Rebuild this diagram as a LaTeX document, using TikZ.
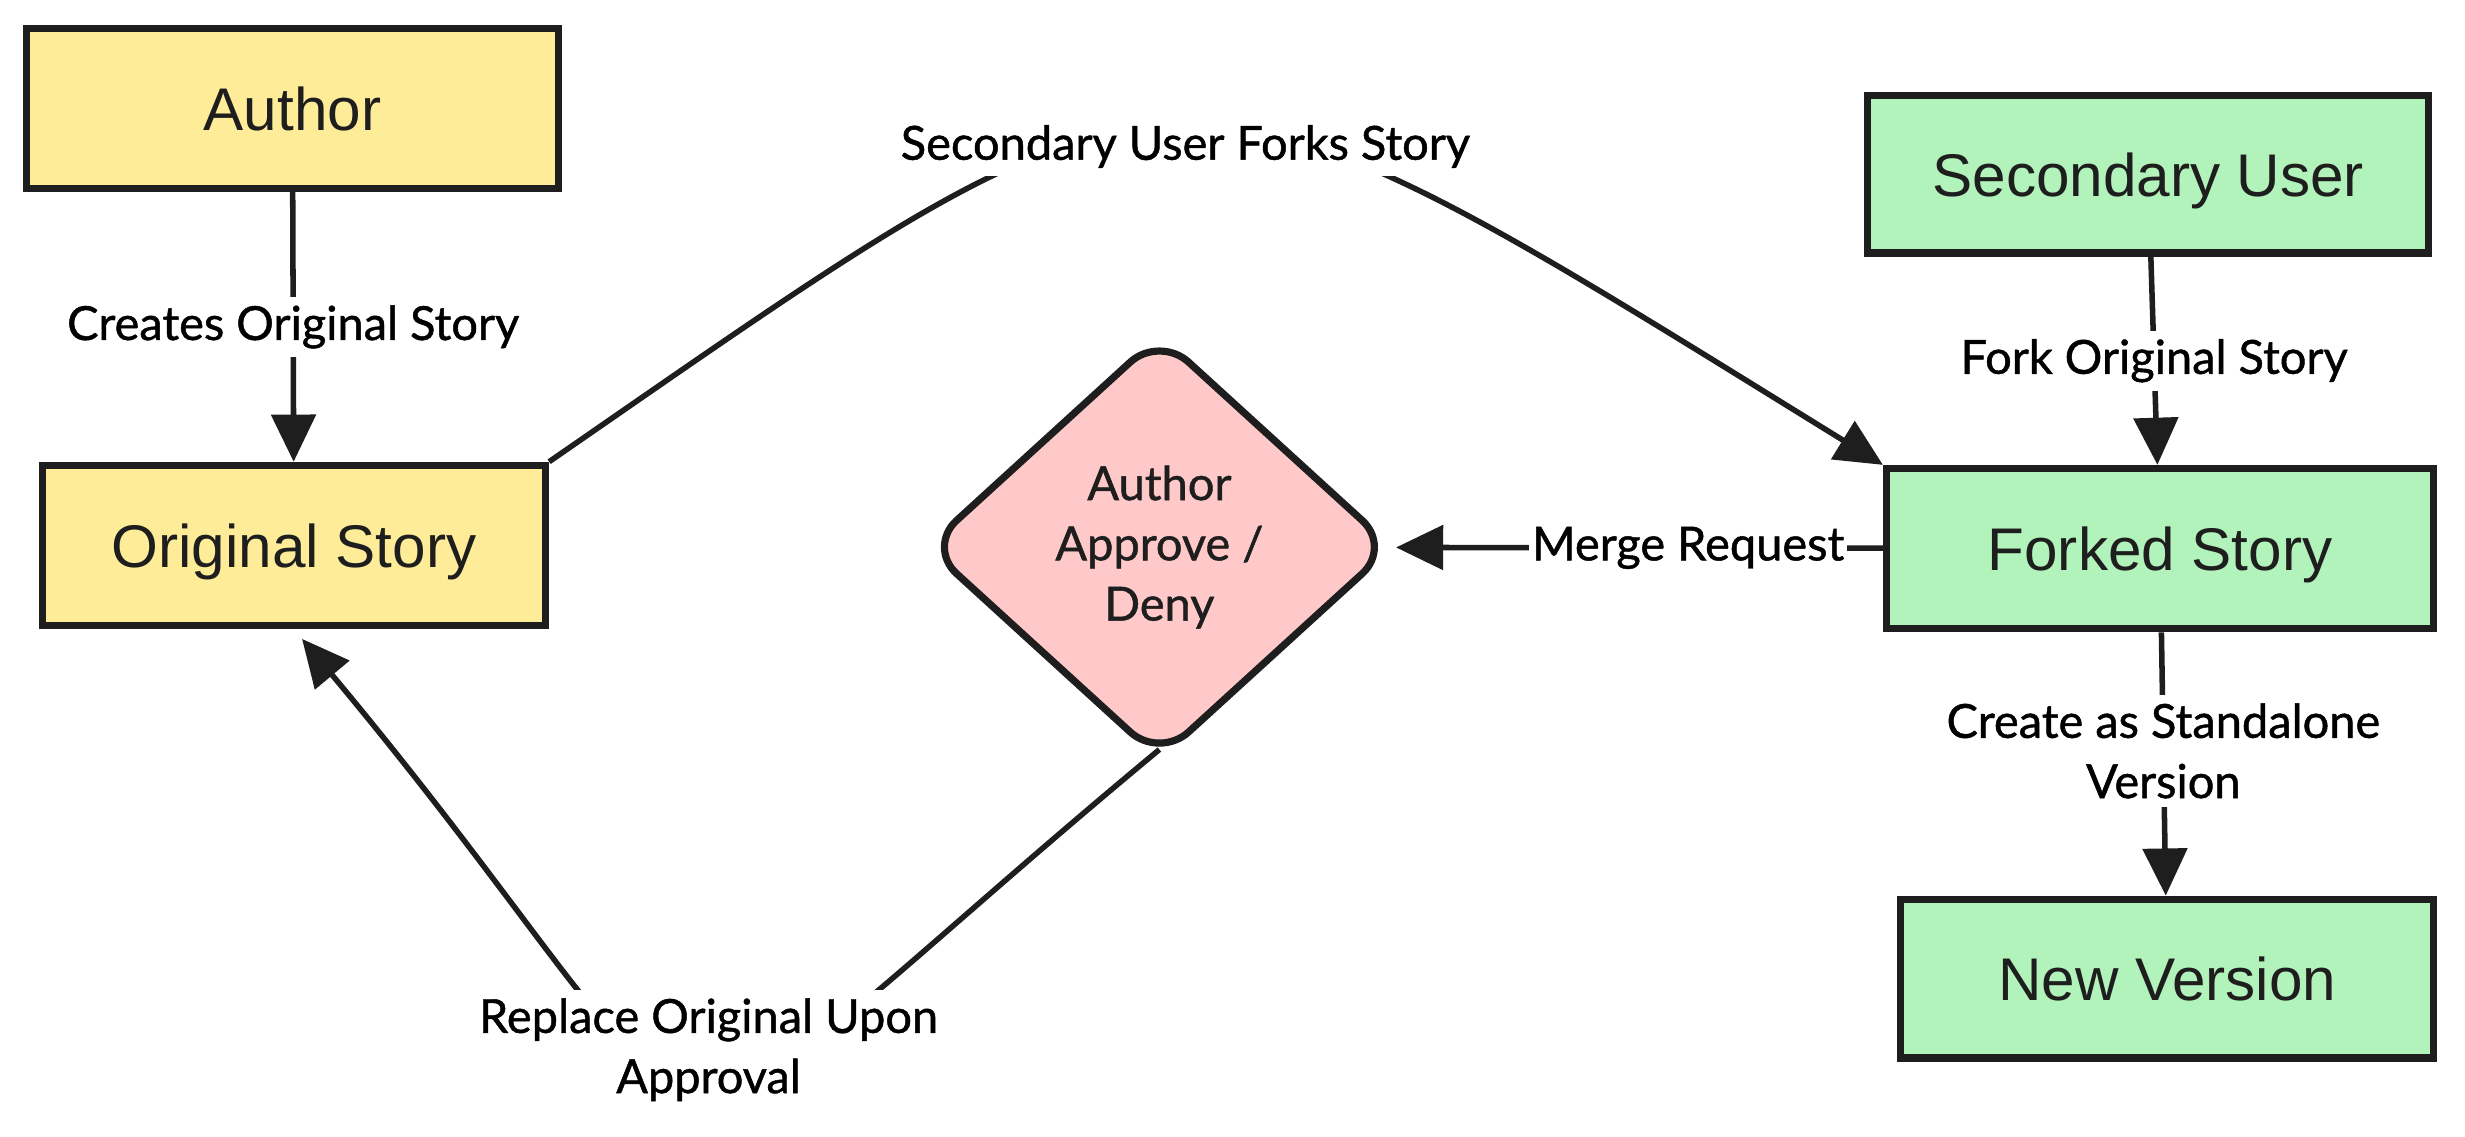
\documentclass[tikz,border=0pt]{standalone}
\usepackage{fontspec}
\setmainfont{Liberation Sans}
\newfontfamily\lblfont{Lato}[FakeBold=1]
\usetikzlibrary{positioning,arrows.meta,shapes.geometric}
\definecolor{inkc}{HTML}{1E1E1E}
\definecolor{yelc}{HTML}{FFEC99}
\definecolor{grnc}{HTML}{B2F2BB}
\definecolor{pnkc}{HTML}{FFC9C9}
\tikzset{box/.style={draw=inkc, line width=1.3pt, minimum height=1.02cm, text height=2.75mm, text depth=0pt, text=inkc, font=\fontsize{10.9}{13}\selectfont}}
\tikzset{ybox/.style={box, fill=yelc}}
\tikzset{gbox/.style={box, fill=grnc}}
\tikzset{dbox/.style={diamond, draw=inkc, line width=1.3pt, fill=pnkc, rounded corners=2.5mm, minimum width=2.97cm, minimum height=2.71cm, inner sep=0pt, align=center, text=inkc, font=\lblfont\fontsize{8.5}{10.9}\selectfont}}
\tikzset{arr/.style={draw=inkc, line width=1pt, -{Triangle[length=3mm, width=2.8mm]}}}
\tikzset{lbl/.style={fill=white, inner sep=1.5pt, align=center, text=black, font=\lblfont\fontsize{8.5}{10.9}\selectfont}}

\begin{document}
\begin{tikzpicture}
\useasboundingbox (0,0) rectangle (15.68,-7.23);
% boxes
\node[ybox, minimum width=3.38cm] (auth) at (1.86,-0.69) {Author};
\node[ybox, minimum width=3.20cm] (orig) at (1.87,-3.47) {Original Story};
\node[gbox, minimum width=3.57cm, minimum height=1.0cm] (sec) at (13.665,-1.11) {Secondary User};
\node[gbox, minimum width=3.48cm] (fork) at (13.74,-3.49) {Forked Story};
\node[gbox, minimum width=3.39cm, minimum height=1.01cm] (newv) at (13.785,-6.225) {New Version};
\node[dbox] (appr) at (7.375,-3.48) {Author\\Approve /\\Deny};

% straight links
\draw[arr] (auth) -- node[lbl] {Creates Original Story} (orig);
\draw[arr] (sec) -- node[lbl] {Fork Original Story} (fork);
\draw[arr] (fork) -- node[lbl, pos=0.45] {Create as Standalone\\Version} (newv);
\draw[arr] (fork) -- node[lbl, pos=0.4, inner sep=0.5pt] {Merge Request} (appr);

% curved links
\draw[arr] (orig.north east) .. controls (7.6,-0.1) and (7.35,-0.1) ..
    node[lbl, yshift=-1.2mm] {Secondary User Forks Story} (fork.north west);
\draw[arr, shorten >=0.8mm] ([yshift=0.9mm]appr.south) .. controls (3.73,-7.79) and (4.94,-7.68) ..
    node[lbl, xshift=1mm, yshift=2.2mm] {Replace Original Upon\\Approval} (orig.south);
\end{tikzpicture}
\end{document}
